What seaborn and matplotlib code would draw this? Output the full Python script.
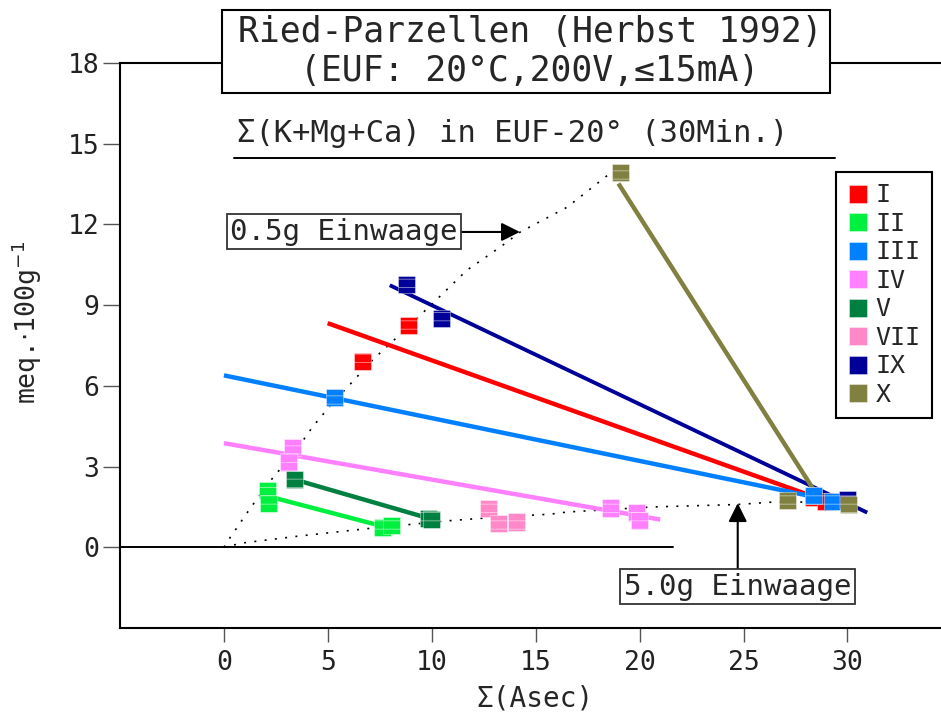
import numpy as np
import pandas as pd
import matplotlib
matplotlib.use("Agg")
import matplotlib.pyplot as plt
import seaborn as sns
from matplotlib.patches import Rectangle

# ---------------- data ----------------
series_names = ["I", "II", "III", "IV", "V", "VII", "IX", "X"]
series_colors = ["#ff0000", "#00f040", "#0080ff", "#ff80ff",
                 "#008040", "#ff88c8", "#000099", "#808040"]

I_x = [6.67, 8.89, 28.35, 28.95]
I_y = [6.91, 8.25, 1.85, 1.72]
II_x = [2.11, 2.16, 7.65, 8.06]
II_y = [2.12, 1.62, 0.75, 0.82]
III_x = [5.33, 28.37, 29.3]
III_y = [5.55, 1.93, 1.70]
IV_x = [3.32, 3.12, 18.58, 19.86, 20.0]
IV_y = [3.71, 3.17, 1.46, 1.31, 1.0]
V_x = [3.40, 9.85, 10.0]
V_y = [2.52, 1.08, 1.03]
VII_x = [12.72, 13.23, 14.08]
VII_y = [1.44, 0.88, 0.94]
IX_x = [8.78, 10.47, 30.0]
IX_y = [9.78, 8.50, 1.78]
X_x = [19.1, 27.1, 30.05]
X_y = [13.92, 1.75, 1.58]

# fitted lines (start / end points)
line_I_x, line_I_y = [4.99, 29.98], [8.33, 1.44]
line_II_x, line_II_y = [2.11, 8.38], [1.90, 0.63]
line_III_x, line_III_y = [0.0, 30.0], [6.39, 1.62]
line_IV_x, line_IV_y = [0.0, 20.99], [3.87, 1.03]
line_V_x, line_V_y = [3.08, 10.2], [2.59, 1.0]
line_IX_x, line_IX_y = [7.98, 30.95], [9.74, 1.29]
line_X_x, line_X_y = [18.98, 29.0], [13.52, 1.38]

# dotted reference curves (0.5 g and 5.0 g sample weight)
c05_x = [0.0, 0.27, 1.31, 2.34, 3.48, 4.27, 5.23, 6.05, 7.16, 8.60, 10.05,
         11.69, 13.28, 14.24, 16.51, 18.58, 19.5]
c05_y = [0.0, 0.33, 1.50, 2.57, 3.61, 4.48, 5.37, 6.04, 6.97, 8.00, 9.07,
         10.30, 11.15, 11.71, 12.64, 13.90, 14.25]
c50_x = [0.0, 0.9, 3.64, 6.85, 10.7, 13.3, 15.7, 16.5, 20.65, 24.7, 26.4, 27.9]
c50_y = [0.0, 0.16, 0.42, 0.69, 0.98, 1.13, 1.23, 1.31, 1.50, 1.59, 1.68, 1.68]

x_ticks = [0, 5, 10, 15, 20, 25, 30]
y_ticks = [0, 3, 6, 9, 12, 15, 18]

# ---------------- build table ----------------
pts = {"I": (I_x, I_y), "II": (II_x, II_y), "III": (III_x, III_y),
       "IV": (IV_x, IV_y), "V": (V_x, V_y), "VII": (VII_x, VII_y),
       "IX": (IX_x, IX_y), "X": (X_x, X_y)}
rows = []
for name in series_names:
    xs, ys = pts[name]
    for xv, yv in zip(xs, ys):
        rows.append({"x": xv, "y": yv, "series": name})
df = pd.DataFrame(rows)
lines = {"I": (line_I_x, line_I_y), "II": (line_II_x, line_II_y),
         "III": (line_III_x, line_III_y), "IV": (line_IV_x, line_IV_y),
         "V": (line_V_x, line_V_y), "IX": (line_IX_x, line_IX_y),
         "X": (line_X_x, line_X_y)}
palette = dict(zip(series_names, series_colors))

# ---------------- style ----------------
sns.set_style("ticks")
plt.rcParams["font.family"] = ["DejaVu Sans Mono", "DejaVu Sans"]
plt.rcParams["hatch.linewidth"] = 0.6

fig = plt.figure(figsize=(9.41, 7.13), dpi=100)
fig.patch.set_facecolor("white")
ax = fig.add_axes([120 / 941, 85 / 713, 821 / 941, 565 / 713])

# reference curves
ax.plot(c05_x, c05_y, color="black", lw=1.2, ls=(0, (1.2, 5)), zorder=2)
ax.plot(c50_x, c50_y, color="black", lw=1.2, ls=(0, (1.2, 5)), zorder=2)

# zero line and underline of subtitle
ax.plot([-5, 21.6], [0, 0], color="black", lw=1.4, zorder=2)
ax.plot([0.5, 29.4], [14.46, 14.46], color="black", lw=1.4, zorder=2)

# fitted lines
for name in series_names:
    if name in lines:
        lx, ly = lines[name]
        ax.plot(lx, ly, color=palette[name], lw=3.2 if name != "IX" else 2.8,
                solid_capstyle="butt", zorder=3)

# points
sns.scatterplot(data=df, x="x", y="y", hue="series", hue_order=series_names,
                palette=palette, marker="s", s=150, linewidth=0.5,
                edgecolor=(1, 1, 1, 0.55), ax=ax, zorder=5, legend=True)
ax.collections[-1].set_hatch("--")

ax.set_xlim(-5, 34.5)
ax.set_ylim(-3, 18)
ax.set_xticks(x_ticks)
ax.set_yticks(y_ticks)
ax.tick_params(axis="both", direction="out", length=10, width=1,
               color="#555555", labelsize=19, labelcolor="#222222")
ax.tick_params(axis="y", length=12, pad=3)
ax.tick_params(axis="x", pad=6)
for side in ["left", "bottom", "top"]:
    ax.spines[side].set_visible(True)
    ax.spines[side].set_linewidth(1.5)
    ax.spines[side].set_color("black")
ax.spines["right"].set_visible(False)

ax.set_xlabel("Σ(Asec)", fontsize=20)
ax.set_ylabel(r"meq.$\cdot$100g$^{-1}$", fontsize=19)
ax.xaxis.set_label_coords(0.505, -0.1)
ax.yaxis.set_label_coords(-0.093, 0.54)

# legend
handles, labels = ax.get_legend_handles_labels()
ax.get_legend().remove()
leg = ax.legend(handles, labels, loc="upper right",
                bbox_to_anchor=(932 / 941, 1 - 172 / 713),
                bbox_transform=fig.transFigure, frameon=True, fancybox=False,
                edgecolor="black", framealpha=1, fontsize=18,
                handlelength=0.9, handletextpad=0.25, labelspacing=0.18,
                borderpad=0.45, borderaxespad=0, markerscale=1.0)
leg.get_frame().set_linewidth(1.5)
leg.set_zorder(20)

# annotations with arrows
ax.annotate("0.5g Einwaage", xy=(14.24, 11.72), xytext=(5.78, 11.72),
            ha="center", va="center", fontsize=21,
            bbox=dict(boxstyle="square,pad=0.12", fc="white", ec="#333333", lw=1.3),
            arrowprops=dict(arrowstyle="-|>", color="black", lw=1.5,
                            mutation_scale=28, shrinkA=0, shrinkB=0),
            zorder=8)
ax.annotate("5.0g Einwaage", xy=(24.72, 1.64), xytext=(24.72, -1.47),
            ha="center", va="center", fontsize=21,
            bbox=dict(boxstyle="square,pad=0.12", fc="white", ec="#333333", lw=1.3),
            arrowprops=dict(arrowstyle="-|>", color="black", lw=1.5,
                            mutation_scale=28, shrinkA=0, shrinkB=0),
            zorder=8)

# subtitle
fig.text(513 / 941, 1 - 133 / 713, "Σ(K+Mg+Ca) in EUF-20° (30Min.)",
         ha="center", va="center", fontsize=22)

# title box
fig.add_artist(Rectangle((222 / 941, 1 - 93 / 713), 608 / 941, 83 / 713,
                         transform=fig.transFigure, fc="white", ec="black",
                         lw=1.5, zorder=10))
fig.text(530 / 941, 1 - 32 / 713, "Ried-Parzellen (Herbst 1992)",
         ha="center", va="center", fontsize=25, zorder=11)
fig.text(530 / 941, 1 - 71 / 713, "(EUF: 20°C,200V,≤15mA)",
         ha="center", va="center", fontsize=25, zorder=11)

fig.savefig("out.png", dpi=100, facecolor="white")
